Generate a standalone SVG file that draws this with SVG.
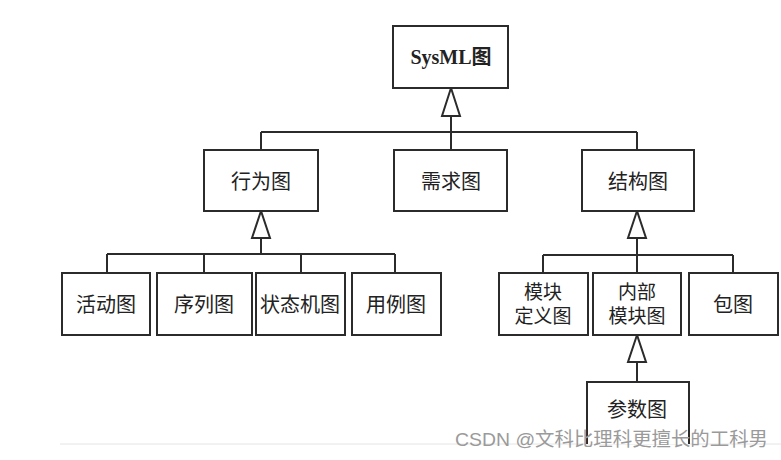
<svg xmlns="http://www.w3.org/2000/svg" width="781" height="460" viewBox="0 0 781 460">
<style>
.box{fill:#fff;stroke:#2b2b2b;stroke-width:2}
.ln{fill:none;stroke:#2b2b2b;stroke-width:2}
.tri{fill:#fff;stroke:#2b2b2b;stroke-width:2;stroke-linejoin:miter}
.t{font-family:"Noto Sans CJK SC","Noto Sans",sans-serif;font-size:20px;fill:#222;text-anchor:middle;dominant-baseline:central}
.t2{font-family:"Liberation Sans","Noto Sans CJK SC",sans-serif;font-size:19px;fill:#222;text-anchor:middle}
.s{font-family:"Liberation Serif","Noto Sans CJK SC",serif;font-size:20px;font-weight:bold;fill:#222;text-anchor:middle;dominant-baseline:central}
.wm{font-family:"Liberation Sans","Noto Sans CJK SC",sans-serif;font-size:19px;fill:#9a9a9a;dominant-baseline:central}
</style>
<rect width="781" height="460" fill="#fff"/>
<line x1="60" y1="444" x2="781" y2="444" stroke="#e4e4e4" stroke-width="1"/>
<g id="connectors">
<path class="ln" d="M451 116V150M261 132H637M261 132V150M637 132V150"/>
<polygon class="tri" points="451,88 442,116 460,116"/>
<path class="ln" d="M261 238V254M107 254H395M107 254V273M204 254V273M301 254V273M395 254V273"/>
<polygon class="tri" points="261,211 252,238 270,238"/>
<path class="ln" d="M637 238V273M543 255H733M543 255V273M733 255V273"/>
<polygon class="tri" points="637,211 628,238 646,238"/>
<path class="ln" d="M637 362V382"/>
<polygon class="tri" points="637,335 628,362 646,362"/>
</g>
<g id="sysml"><rect class="box" x="393" y="26" width="115" height="62"/><text class="s" x="451" y="57">SysML图</text></g>
<g id="behavior"><rect class="box" x="204" y="150" width="114" height="61"/><text class="t" x="261" y="180">行为图</text></g>
<g id="requirement"><rect class="box" x="394" y="150" width="113" height="61"/><text class="t" x="451" y="180">需求图</text></g>
<g id="structure"><rect class="box" x="582" y="150" width="112" height="61"/><text class="t" x="638" y="180">结构图</text></g>
<g id="activity"><rect class="box" x="62" y="273" width="88" height="62"/><text class="t" x="106" y="303">活动图</text></g>
<g id="sequence"><rect class="box" x="157" y="273" width="95" height="62"/><text class="t" x="204" y="303">序列图</text></g>
<g id="statemachine"><rect class="box" x="256" y="273" width="89" height="62"/><text class="t" x="300" y="303">状态机图</text></g>
<g id="usecase"><rect class="box" x="352" y="273" width="89" height="62"/><text class="t" x="396" y="303">用例图</text></g>
<g id="bdd"><rect class="box" x="499" y="273" width="89" height="62"/><text class="t2" x="543" y="299">模块</text><text class="t2" x="543" y="323">定义图</text></g>
<g id="ibd"><rect class="box" x="593" y="273" width="88" height="62"/><text class="t2" x="637" y="299">内部</text><text class="t2" x="637" y="323">模块图</text></g>
<g id="package"><rect class="box" x="689" y="273" width="89" height="62"/><text class="t" x="733" y="303">包图</text></g>
<g id="parametric"><path class="box" d="M587 444V382H689V444"/><text class="t" x="637" y="408">参数图</text></g>
<text class="wm" x="455" y="439" textLength="313" lengthAdjust="spacingAndGlyphs">CSDN @文科比理科更擅长的工科男</text>
</svg>
